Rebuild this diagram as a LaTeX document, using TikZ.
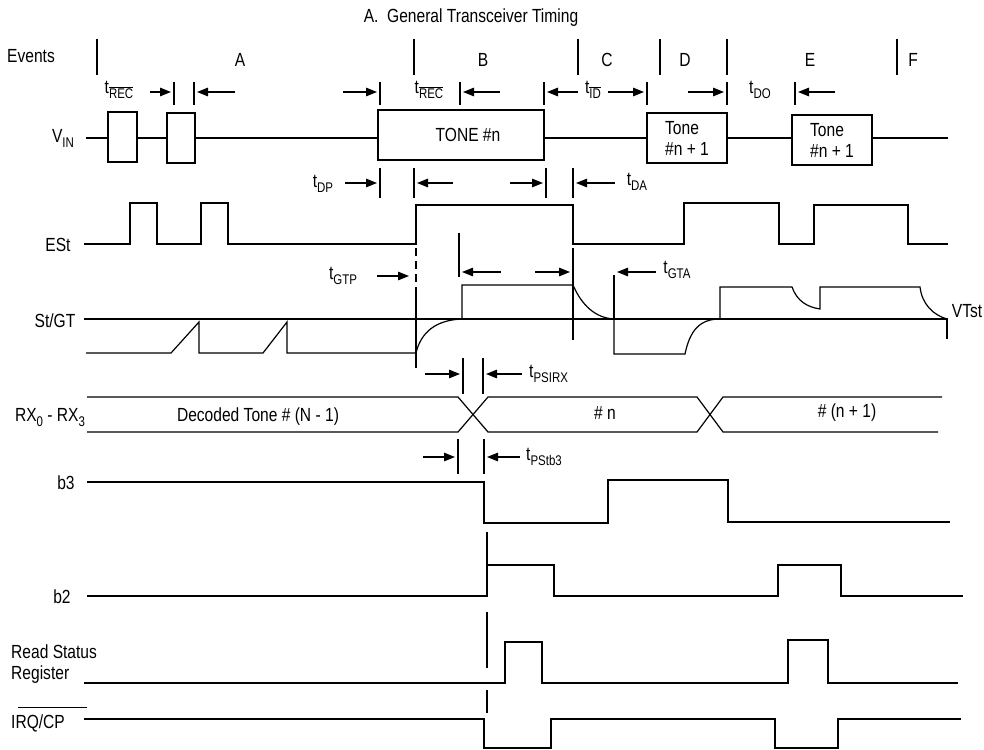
\documentclass[tikz,border=0pt]{standalone}
\usepackage{fontspec}
\setmainfont{Liberation Sans}[FakeStretch=0.82]
\usetikzlibrary{arrows.meta}
\newcommand{\tsub}[2]{#1\raisebox{-.5ex}{\fontsize{14}{14}\selectfont #2}}
\newcommand{\tbar}[1]{t\raisebox{-.5ex}{$\overline{\hbox{\fontsize{14}{14}\selectfont #1}}$}}
\tikzset{
    wave/.style={line width=1.2pt, line join=miter},
    tick/.style={line width=1.2pt},
    tarrow/.style={line width=1.2pt, -{Triangle[length=11pt,width=8.5pt]}},
    lbl/.style={font=\fontsize{19}{21}\selectfont, inner sep=0pt},
    tonebox/.style={draw, line width=1.2pt, fill=white, inner sep=0pt, font=\fontsize{19}{21}\selectfont},
}

\begin{document}
\begin{tikzpicture}[x=1pt, y=-1pt]
    \useasboundingbox (0,0) rectangle (984,749);
    \node[lbl] (title) at (471,18) {A.\ \ General Transceiver Timing};

    %% events
    \node[lbl] (events) at (31,56) {Events};
    \foreach \x in {97,414,578,660,727,897} {
        \draw[tick] (\x,39) -- (\x,75);
    }
    \foreach \x/\e in {240/A,483/B,607/C,685/D,810/E,913/F} {
        \node[lbl] (ev\e) at (\x,60) {\e};
    }

    %% first row of timing marks
    \foreach \x/\s/\l in {174/-1/24,194/1/41,380/-1/37,460/1/40,544/1/34,647/-1/39,727/-1/39,795/1/40} {
        \draw[tick] (\x,82) -- (\x,105);
        \draw[tarrow] (\x+\s*\l,92) -- (\x+\s*3,92);
    }
    \node[lbl] (trecA) at (119,90) {\tbar{REC}};
    \node[lbl] (trecB) at (429,90) {\tbar{REC}};
    \node[lbl] (tid) at (593,90) {\tbar{ID}};
    \node[lbl] (tdo) at (760,90) {\tsub{t}{DO}};

    %% V_IN
    \node[lbl] (vin) at (63,138) {\tsub{V}{IN}};
    \draw[wave] (86,138) -- (948,138);
    \draw[wave, fill=white] (108,112) rectangle (137,162);
    \draw[wave, fill=white] (167,113) rectangle (195,163);
    \node[tonebox, minimum width=166, minimum height=50] (tone) at (461,135) {\hspace{14pt}TONE \#n};
    \node[tonebox, minimum width=80, minimum height=50, align=left] (toneA) at (687,138) {Tone\\\#n + 1};
    \node[tonebox, minimum width=80, minimum height=50, align=left] (toneB) at (832,140) {Tone\\\#n + 1};

    %% second row of timing marks
    \foreach \x/\s/\l in {380/-1/35,414/1/39,546/-1/36,573/1/42} {
        \draw[tick] (\x,168) -- (\x,198);
        \draw[tarrow] (\x+\s*\l,183) -- (\x+\s*3,183);
    }
    \node[lbl] (tdp) at (323,184) {\tsub{t}{DP}};
    \node[lbl] (tda) at (637,182) {\tsub{t}{DA}};

    %% ESt
    \node[lbl] (est) at (58,245) {ESt};
    \draw[wave] (84,244) -- (130,244) -- (130,203) -- (157,203) -- (157,244) -- (201,244) -- (201,203) -- (228,203) -- (228,244)
        -- (416,244) -- (416,205) -- (573,205) -- (573,244) -- (684,244) -- (684,203) -- (779,203) -- (779,244)
        -- (814,244) -- (814,205) -- (908,205) -- (908,244) -- (948,244);

    %% gate timing marks
    \draw[tick, dash pattern=on 8pt off 5pt] (416,248) -- (416,283);
    \draw[tick] (416,287) -- (416,368);
    \draw[tick] (459,233) -- (459,277);
    \draw[tick] (573,248) -- (573,340);
    \draw[tick] (614,275) -- (614,319);
    \draw[tarrow] (377,276) -- (409,276);
    \draw[tarrow] (501,272) -- (462,272);
    \draw[tarrow] (535,272) -- (570,272);
    \draw[tarrow] (656,272) -- (617,272);
    \node[lbl] (tgtp) at (343,276) {\tsub{t}{GTP}};
    \node[lbl] (tgta) at (677,270) {\tsub{t}{GTA}};

    %% St/GT
    \node[lbl] (stgt) at (55,321) {St/GT};
    \node[lbl] (vtst) at (967,311) {VTst};
    \draw[wave] (84,319) -- (947,319) -- (947,339);
    \draw[wave] (86,353) -- (171,353) -- (199,322) -- (199,353) -- (263,353) -- (287,322) -- (287,353) -- (416,353)
        .. controls (421,332) and (436,320) .. (462,319) -- (462,285) -- (573,285)
        .. controls (582,306) and (596,318) .. (614,319) -- (614,354) -- (685,354)
        .. controls (690,330) and (700,319) .. (720,319) -- (720,287) -- (792,287)
        .. controls (797,301) and (807,307) .. (820,309) -- (820,287) -- (920,287)
        .. controls (922,304) and (933,315) .. (947,319);

    %% RX timing marks
    \foreach \x/\s/\l in {463/-1/38,483/1/39} {
        \draw[tick] (\x,358) -- (\x,394);
        \draw[tarrow] (\x+\s*\l,374) -- (\x+\s*3,374);
    }
    \node[lbl, anchor=west] (tpsirx) at (529,374) {\tsub{t}{PSIRX}};

    %% RX0 - RX3
    \node[lbl] (rx) at (50,418) {RX\raisebox{-.5ex}{\fontsize{14}{14}\selectfont 0} - RX\raisebox{-.5ex}{\fontsize{14}{14}\selectfont 3}};
    \draw[wave] (87,397) -- (458,397) -- (488,432) -- (697,432) -- (723,397) -- (942,397);
    \draw[wave] (87,432) -- (458,432) -- (488,397) -- (697,397) -- (723,432) -- (938,432);
    \node[lbl] (rxa) at (258,417) {Decoded Tone \# (N - 1)};
    \node[lbl] (rxb) at (605,413) {\# n};
    \node[lbl] (rxc) at (847,413) {\# (n + 1)};

    %% b3 timing marks
    \foreach \x/\s/\l in {458/-1/35,484/1/36} {
        \draw[tick] (\x,439) -- (\x,474);
        \draw[tarrow] (\x+\s*\l,457) -- (\x+\s*3,457);
    }
    \node[lbl, anchor=west] (tpstb) at (526,457) {\tsub{t}{PStb3}};

    %% b3, b2, read status, IRQ
    \node[lbl] (bthree) at (66,483) {b3};
    \draw[wave] (87,482) -- (484,482) -- (484,523) -- (608,523) -- (608,480) -- (728,480) -- (728,522) -- (950,522);
    \node[lbl] (btwo) at (62,597) {b2};
    \draw[tick] (487,532) -- (487,565);
    \draw[wave] (87,596) -- (487,596) -- (487,565) -- (554,565) -- (554,596) -- (778,596) -- (778,565) -- (841,565) -- (841,596) -- (963,596);
    \node[lbl, align=left, anchor=west] (rsr) at (11,664) {Read Status\\Register};
    \draw[tick] (487,612) -- (487,668);
    \draw[wave] (84,683) -- (505,683) -- (505,642) -- (542,642) -- (542,683) -- (788,683) -- (788,640) -- (828,640) -- (828,683) -- (958,683);
    \node[lbl, anchor=west] (irq) at (11,723) {IRQ/CP};
    \draw[line width=1pt] (18,707) -- (87,707);
    \draw[tick] (487,690) -- (487,713);
    \draw[wave] (84,719) -- (484,719) -- (484,748) -- (551,748) -- (551,719) -- (775,719) -- (775,748) -- (838,748) -- (838,719) -- (961,719);
\end{tikzpicture}
\end{document}
